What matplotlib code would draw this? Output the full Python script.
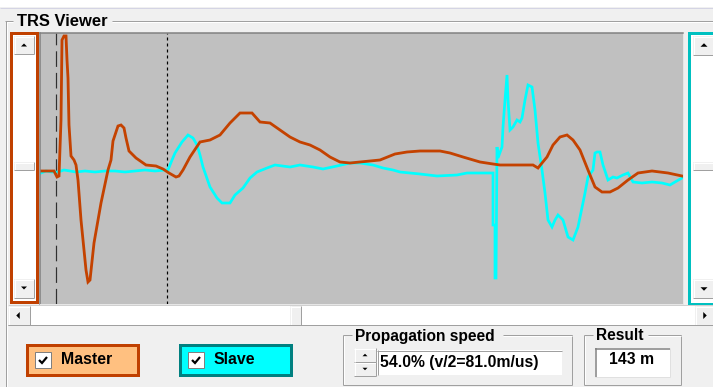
import matplotlib
matplotlib.use('Agg')
import matplotlib.pyplot as plt
from matplotlib.patches import Rectangle, Polygon

# ---- data (sample index, amplitude) ----
master_x = [1, 14, 17, 19, 21, 22, 24, 26, 27, 28, 29, 31, 34, 36, 38, 41, 46, 48, 50, 54,
            61, 68, 71, 73, 78, 81, 84, 86, 89, 96, 106, 116, 123, 129, 136, 139, 143, 150,
            160, 170, 180, 190, 200, 212, 220, 230, 240, 250, 260, 270, 280, 290, 300, 310,
            320, 340, 355, 367, 380, 400, 410, 423, 440, 453, 460, 493, 498, 502, 507, 513,
            520, 527, 533, 540, 544, 548, 555, 562, 570, 578, 588, 598, 612, 628, 642]
master_y = [0, 0, -6, -5, 51, 131, 135, 135, 111, 93, 46, 15, 11, 6, -9, -49, -99, -111, -109, -72,
            -32, 1, 11, 30, 45, 46, 43, 33, 20, 13, 6, 5, 2, -2, -6, -5, 1, 14,
            29, 31, 36, 48, 58, 58, 49, 48, 41, 34, 29, 26, 21, 14, 9, 8,
            9, 11, 17, 19, 20, 20, 18, 14, 9, 7, 6, 6, 3, 8, 14, 26,
            34, 36, 31, 21, 11, 1, -16, -21, -21, -17, -9, -2, 0, -2, -5]

slave_x = [1, 6, 12, 18, 24, 30, 36, 45, 55, 65, 75, 85, 95, 105, 115, 125, 128, 132, 135, 142,
           148, 153, 157, 160, 163, 170, 177, 182, 190, 195, 203, 210, 217, 227, 235, 250, 260,
           273, 283, 297, 310, 320, 333, 343, 353, 360, 380, 397, 417, 427, 450, 453, 453, 455,
           455, 456, 457, 458, 462, 463, 465, 467, 468, 470, 473, 477, 480, 482, 485, 488, 492,
           495, 498, 502, 505, 508, 512, 515, 518, 523, 528, 533, 538, 545, 548, 553, 555, 557,
           560, 563, 568, 573, 577, 583, 588, 593, 602, 612, 622, 630, 635, 642]
slave_y = [-2, 0, -1, -1, 1, 0, -1, 0, -1, 0, 0, -1, 0, 1, 0, 1, 1, 11, 18, 29,
           36, 33, 26, 16, 4, -16, -27, -32, -32, -24, -17, -7, -1, 3, 6, 4, 6,
           4, 2, 5, 8, 8, 6, 3, 1, -1, -3, -5, -4, -2, -2, -2, -54, -54,
           -107, -107, 24, 13, 24, 44, 71, 96, 71, 41, 44, 51, 49, 53, 71, 86, 84,
           61, 28, 1, -22, -49, -56, -49, -44, -49, -66, -69, -56, -22, -6, 1, 18, 19,
           19, 6, -9, -6, -7, -4, -2, -11, -12, -11, -12, -14, -11, -7]

cursor_dashed = 16
cursor_dotted = 127
x_range = (0, 643)
y_range = (-133, 138)

master_label = "Master"
slave_label = "Slave"
title = "TRS Viewer"
speed_title = "Propagation speed"
speed_text = "54.0% (v/2=81.0m/us)"
result_title = "Result"
result_text = "143 m"

W, H = 713, 387
fig = plt.figure(figsize=(W / 100, H / 100), dpi=100)
fig.patch.set_facecolor('#F0F0F0')

bg = fig.add_axes([0, 0, 1, 1])
bg.set_xlim(0, W)
bg.set_ylim(H, 0)
bg.axis('off')

PX = 0.72
FONT = 'Liberation Sans'


def rect(x, y, w, h, fc, ec='none', lw=0.0, z=1):
    bg.add_patch(Rectangle((x, y), w, h, facecolor=fc, edgecolor=ec, linewidth=lw * PX, zorder=z))


def hline(x0, x1, y, c, lw=1.0, z=2):
    bg.plot([x0, x1], [y, y], color=c, lw=lw * PX, solid_capstyle='butt', zorder=z)


def vline(x, y0, y1, c, lw=1.0, z=2):
    bg.plot([x, x], [y0, y1], color=c, lw=lw * PX, solid_capstyle='butt', zorder=z)


def button(x, y, w, h, z=3):
    rect(x, y, w, h, '#F0F0F0', z=z)
    hline(x, x + w, y + 0.5, '#FFFFFF', z=z + 0.1)
    vline(x + 0.5, y, y + h, '#FFFFFF', z=z + 0.1)
    hline(x, x + w, y + h - 0.5, '#A0A0A0', z=z + 0.1)
    vline(x + w - 0.5, y, y + h, '#A0A0A0', z=z + 0.1)


def tri(cx, cy, direction, size=4, z=4):
    s = size
    if direction == 'up':
        pts = [(cx - s, cy + s / 2), (cx + s, cy + s / 2), (cx, cy - s / 2)]
    elif direction == 'down':
        pts = [(cx - s, cy - s / 2), (cx + s, cy - s / 2), (cx, cy + s / 2)]
    elif direction == 'left':
        pts = [(cx + s / 2, cy - s), (cx + s / 2, cy + s), (cx - s / 2, cy)]
    else:
        pts = [(cx - s / 2, cy - s), (cx - s / 2, cy + s), (cx + s / 2, cy)]
    bg.add_patch(Polygon(pts, closed=True, facecolor='black', edgecolor='none', zorder=z))


# top strip
rect(0, 0, W, 7, '#FFFFFF')
hline(0, W, 7.5, '#D4D4E4')

# group box "TRS Viewer"
hline(5, 13, 21, '#A0A0A0')
hline(112, W, 21, '#A0A0A0')
hline(6, 13, 22, '#FFFFFF')
hline(112, W, 22, '#FFFFFF')
vline(5.5, 21, H, '#A0A0A0')
vline(6.5, 22, H, '#FFFFFF')
bg.text(17, 21, title, fontsize=11.9, fontweight='bold', family=FONT,
        ha='left', va='center', color='black', zorder=5)

# left vertical scrollbar (master)
rect(11, 33, 26, 269, '#FFFFFF', ec='#C04000', lw=3, z=2)
button(14, 36, 20, 18)
tri(24, 45, 'up', 3)
button(14, 162, 20, 8)
button(14, 279, 20, 19)
tri(24, 288, 'down', 3)

# right vertical scrollbar (slave)
rect(689, 33, 30, 271, '#FFFFFF', ec='#00C0C0', lw=3, z=2)
button(693, 36, 22, 19)
tri(704, 45, 'up', 3.5)
button(693, 162, 22, 8)
button(693, 279, 22, 19)
tri(704, 289, 'down', 3.5)

# horizontal scrollbar
rect(8, 305, W - 8, 20, '#FFFFFF', z=1)
hline(8, W, 305, '#D0D0D0')
hline(8, W, 325, '#A0A0A0')
button(8, 306, 22, 19)
tri(18, 315.5, 'left', 3.5)
button(290, 306, 11, 19)
button(695, 306, 20, 19)
tri(705, 315.5, 'right', 3.5)


# legend buttons
def legend_box(x, y, w, h, fc, ec, label):
    rect(x + 1.5, y + 1.5, w - 3, h - 3, fc, ec=ec, lw=3, z=3)
    cx, cy = x + 10, y + 9
    rect(cx, cy, 16, 16, '#FFFFFF', ec='#808080', lw=1, z=4)
    bg.plot([cx + 4, cx + 7, cx + 12], [cy + 8, cy + 11, cy + 5], color='black',
            lw=2.2 * PX, solid_capstyle='butt', solid_joinstyle='miter', zorder=5)
    bg.text(cx + 26, y + h / 2 + 0.5, label, fontsize=11.4, fontweight='bold', family=FONT,
            ha='left', va='center', color='black', zorder=5)


legend_box(25, 343, 114, 33, '#FFC080', '#C04000', master_label)
legend_box(178, 343, 114, 33, '#00FFFF', '#008080', slave_label)


# group boxes bottom
def group(x0, x1, y0, y1, tx0, tx1, label):
    hline(x0, tx0, y0, '#A0A0A0', z=2)
    hline(tx1, x1, y0, '#A0A0A0', z=2)
    vline(x0, y0, y1, '#A0A0A0', z=2)
    vline(x1, y0, y1, '#A0A0A0', z=2)
    hline(x0, x1, y1, '#A0A0A0', z=2)
    vline(x0 + 1, y0 + 1, y1 - 1, '#FFFFFF', z=2)
    hline(tx1, x1, y0 + 1, '#FFFFFF', z=2)
    bg.text(tx0 + 3, y0 + 1, label, fontsize=11.2, fontweight='bold', family=FONT,
            ha='left', va='center', color='black', zorder=5)


group(343, 572, 335, 385, 352, 503, speed_title)
group(584, 681, 335, 385, 593, 648, result_title)

# speed spinner + text box
button(354, 348, 22, 14)
tri(365, 355, 'up', 2.5)
button(354, 362, 22, 14)
tri(365, 369, 'down', 2.5)
rect(377, 350, 185, 25, '#FFFFFF', z=3)
hline(377, 562, 350.5, '#A0A0A0', z=3.1)
vline(377.5, 350, 375, '#A0A0A0', z=3.1)
bg.text(380, 363, speed_text, fontsize=11.3, fontweight='bold', family=FONT,
        ha='left', va='center', color='black', zorder=5)

# result box
rect(595, 348, 75, 29, '#FFFFFF', z=3)
hline(595, 670, 348.5, '#808080', lw=1.5, z=3.1)
vline(595.5, 348, 377, '#808080', lw=1.5, z=3.1)
hline(595, 670, 376.5, '#E0E0E0', z=3.1)
vline(669.5, 348, 377, '#E0E0E0', z=3.1)
bg.text(632, 360, result_text, fontsize=11.3, fontweight='bold', family=FONT,
        ha='center', va='center', color='black', zorder=5)

# ---- trace plot ----
ax = fig.add_axes([40 / W, 1 - 304 / H, (683 - 40) / W, (304 - 33) / H])
ax.set_facecolor('#C0C0C0')
ax.set_xlim(*x_range)
ax.set_ylim(*y_range)
ax.set_xticks([])
ax.set_yticks([])
for side in ('top', 'left'):
    ax.spines[side].set_color('#808080')
    ax.spines[side].set_linewidth(1.5 * PX)
for side in ('bottom', 'right'):
    ax.spines[side].set_color('#E6E6E6')
    ax.spines[side].set_linewidth(1 * PX)

ax.axvline(cursor_dashed, color='#303030', lw=1.2 * PX, dashes=(13, 5))
ax.axvline(cursor_dotted, color='#000000', lw=1.2 * PX, dashes=(2.5, 2.5))
ax.plot(slave_x, slave_y, color='#00FFFF', lw=2.7 * PX, solid_joinstyle='miter')
ax.plot(master_x, master_y, color='#C44200', lw=2.8 * PX, solid_joinstyle='miter')

fig.savefig('out.png', dpi=100, facecolor=fig.get_facecolor())
